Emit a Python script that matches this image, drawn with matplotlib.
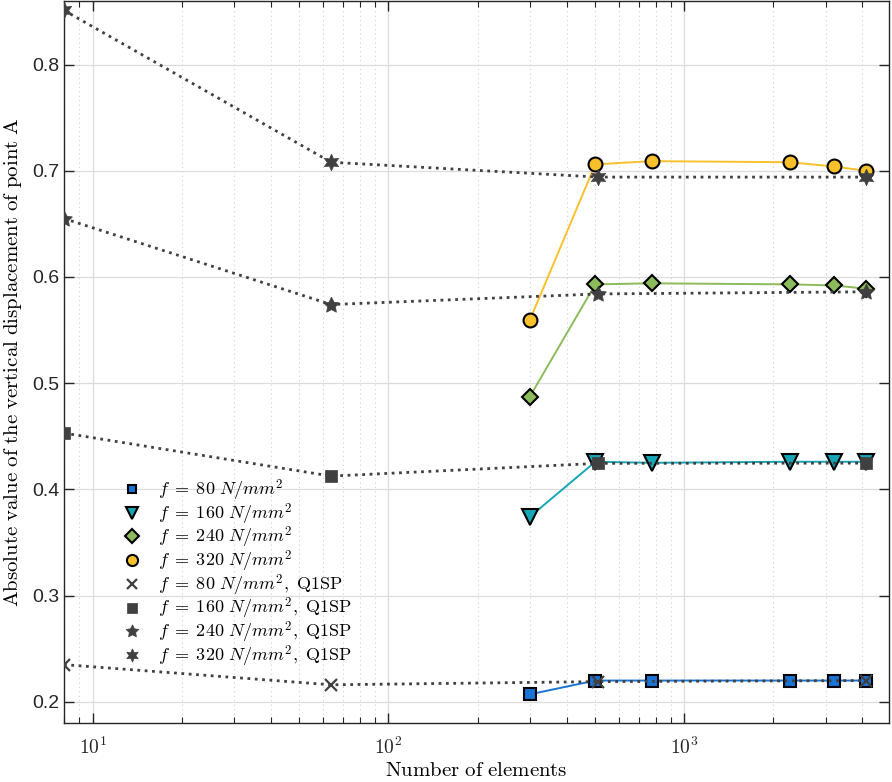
import numpy as np
import matplotlib
matplotlib.use('Agg')
import matplotlib.pyplot as plt
from matplotlib.ticker import LogLocator, NullFormatter, FixedLocator

plt.rcParams['mathtext.fontset'] = 'cm'
plt.rcParams['font.family'] = ['Liberation Sans', 'DejaVu Sans']

# FE meshes (number of elements) and displacement values
fe_elements = [300, 500, 775, 2270, 3200, 4096]
fe_80 = [0.207, 0.220, 0.220, 0.220, 0.220, 0.220]
fe_160 = [0.374, 0.426, 0.425, 0.426, 0.426, 0.426]
fe_240 = [0.487, 0.593, 0.594, 0.593, 0.592, 0.589]
fe_320 = [0.559, 0.706, 0.709, 0.708, 0.704, 0.700]

# Q1SP meshes
q1sp_elements = [8, 64, 512, 4096]
q1sp_80 = [0.235, 0.216, 0.219, 0.220]
q1sp_160 = [0.453, 0.4125, 0.4245, 0.4247]
q1sp_240 = [0.655, 0.574, 0.584, 0.586]
q1sp_320 = [0.851, 0.708, 0.694, 0.694]

fe_labels = [r'$f\;=\;80\ N/mm^2$', r'$f\;=\;160\ N/mm^2$',
             r'$f\;=\;240\ N/mm^2$', r'$f\;=\;320\ N/mm^2$']
q1sp_labels = [r'$f\;=\;80\ N/mm^2,\ \mathrm{Q1SP}$', r'$f\;=\;160\ N/mm^2,\ \mathrm{Q1SP}$',
               r'$f\;=\;240\ N/mm^2,\ \mathrm{Q1SP}$', r'$f\;=\;320\ N/mm^2,\ \mathrm{Q1SP}$']

fe_colors = ['#1a74d6', '#17a6b7', '#8cbb5b', '#f8c12c']
fe_markers = ['s', 'v', 'D', 'o']
fe_sizes = [8, 11, 8.5, 10]
q1sp_markers = ['x', 's', (5, 1, 0), (6, 1, 0)]
q1sp_sizes = [9, 9, 12, 12]
gray = '#404040'

fig = plt.figure(figsize=(8.92, 7.82), dpi=100)
ax = fig.add_axes([0.0717, 0.0754, 0.9249, 0.9236])

for vals, c, m, ms, lab in zip([fe_80, fe_160, fe_240, fe_320], fe_colors,
                               fe_markers, fe_sizes, fe_labels):
    ax.plot(fe_elements, vals, '-', color=c, lw=1.4, marker=m, ms=ms,
            mfc=c, mec='black', mew=1.5, label=lab, zorder=3)

for vals, m, ms, lab in zip([q1sp_80, q1sp_160, q1sp_240, q1sp_320],
                            q1sp_markers, q1sp_sizes, q1sp_labels):
    ax.plot(q1sp_elements, vals, ':', color=gray, lw=2, marker=m, ms=ms,
            mfc=gray, mec=gray, mew=1.6 if m == 'x' else 0.5, label=lab, zorder=4)

ax.set_xscale('log')
ax.set_xlim(8, 4915)
ax.set_ylim(0.18, 0.86)
ax.set_yticks(np.arange(0.2, 0.81, 0.1))
ax.set_yticklabels(['0.2', '0.3', '0.4', '0.5', '0.6', '0.7', '0.8'])
ax.xaxis.set_major_locator(FixedLocator([10, 100, 1000]))
ax.set_xticklabels([r'$\mathsf{10^{1}}$', r'$\mathsf{10^{2}}$', r'$\mathsf{10^{3}}$'])
ax.xaxis.set_minor_locator(LogLocator(base=10, subs=np.arange(2, 10), numticks=20))
ax.xaxis.set_minor_formatter(NullFormatter())

ax.tick_params(axis='both', which='both', direction='in', top=True, right=True,
               labelsize=14, colors='#262626')
ax.tick_params(axis='both', which='major', length=7, width=1)
ax.tick_params(axis='x', which='minor', length=4, width=0.8)
ax.tick_params(axis='x', which='major', pad=10)

ax.grid(True, which='major', color='#dcdcdc', lw=0.9)
ax.grid(True, which='minor', axis='x', color='#d0d0d0', lw=0.8, ls=(0, (1, 3)))
ax.set_axisbelow(True)
for s in ax.spines.values():
    s.set_color('#262626')
    s.set_linewidth(1)

ax.set_xlabel(r'$\mathrm{Number\ of\ elements}$', fontsize=15, labelpad=2)
ax.set_ylabel(r'$\mathrm{Absolute\ value\ of\ the\ vertical\ displacement\ of\ point\ A}$',
              fontsize=15, labelpad=6)

ax.legend(loc='upper left', bbox_to_anchor=(0.128, 0.401), bbox_transform=fig.transFigure,
          frameon=False, fontsize=13, handlelength=1.0, handletextpad=0.9,
          labelspacing=-0.1, numpoints=1, markerscale=0.8, borderpad=0)
for line in ax.get_legend().get_lines():
    line.set_linestyle('None')

fig.savefig('out.png', dpi=100)
